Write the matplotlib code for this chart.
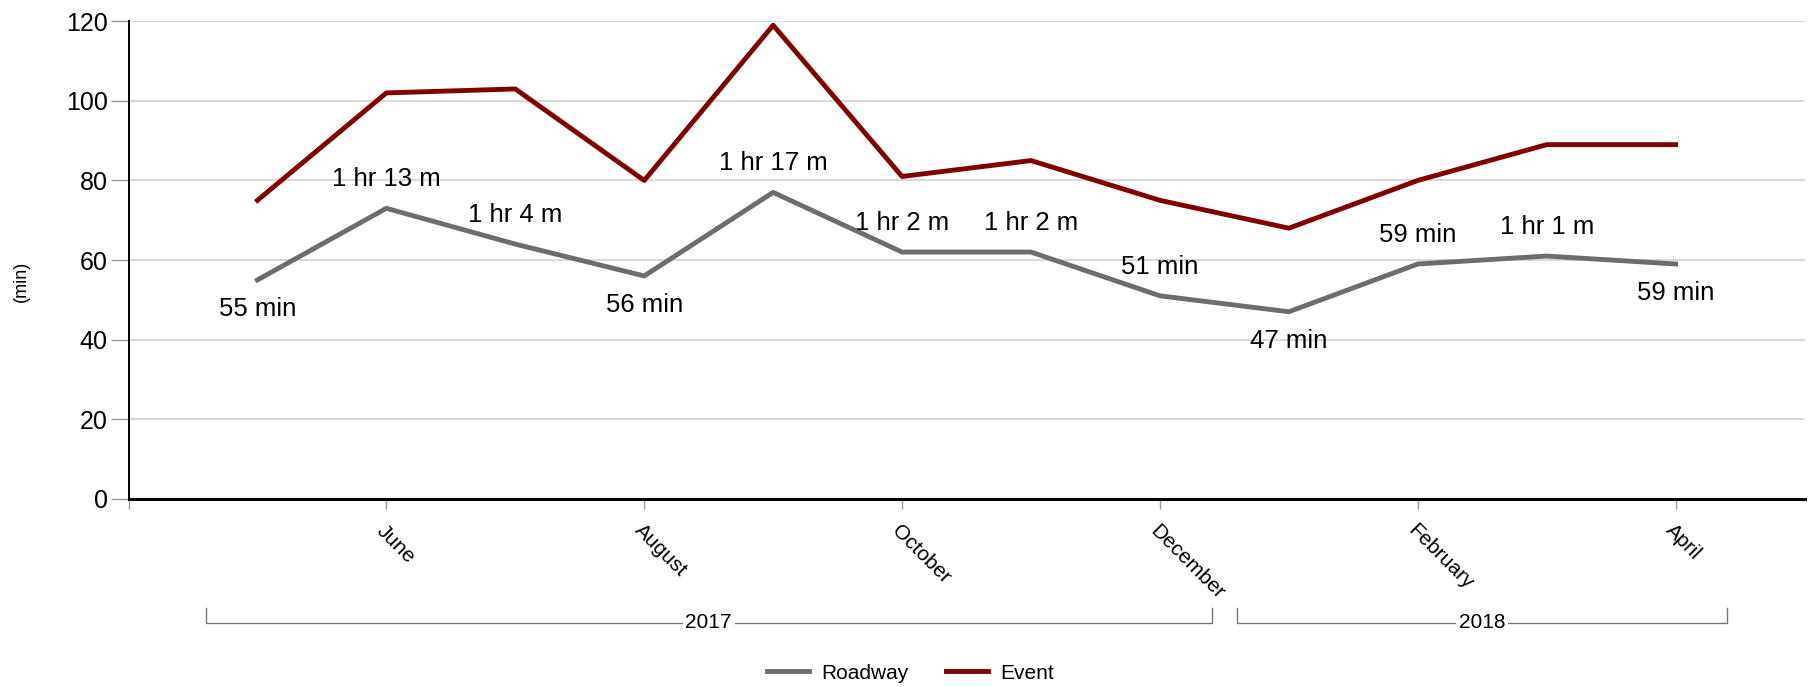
import matplotlib
matplotlib.use('Agg')
import matplotlib.pyplot as plt

plt.rcParams['font.family'] = ['Liberation Sans', 'DejaVu Sans']

months = ['May', 'June', 'July', 'August', 'September', 'October', 'November',
          'December', 'January', 'February', 'March', 'April']
roadway = [55, 73, 64, 56, 77, 62, 62, 51, 47, 59, 61, 59]
event = [75, 102, 103, 80, 119, 81, 85, 75, 68, 80, 89, 89]
roadway_labels = ['55 min', '1 hr 13 m', '1 hr 4 m', '56 min', '1 hr 17 m', '1 hr 2 m',
                  '1 hr 2 m', '51 min', '47 min', '59 min', '1 hr 1 m', '59 min']
label_side = [-1, 1, 1, -1, 1, 1, 1, 1, -1, 1, 1, -1]
tick_pos = [-1, 1, 3, 5, 7, 9, 11]
tick_labels = ['', 'June', 'August', 'October', 'December', 'February', 'April']
years = ['2017', '2018']
year_spans = [(-0.4, 7.4), (7.6, 11.4)]

fig = plt.figure(figsize=(18.1, 6.87), dpi=100)
ax = fig.add_axes([0.071, 0.274, 0.926, 0.695])

x = list(range(len(months)))
ax.plot(x, roadway, color='#6d6d6d', lw=3.5, label='Roadway')
ax.plot(x, event, color='#800000', lw=3.5, label='Event')

for i, (v, lab, s) in enumerate(zip(roadway, roadway_labels, label_side)):
    ax.annotate(lab, (i, v), xytext=(0, 21 * s), textcoords='offset points',
                ha='center', va='center', fontsize=18.5)

ax.set_xlim(-1, 12)
ax.set_ylim(0, 120)
ax.set_yticks(range(0, 121, 20))
ax.yaxis.grid(True, color='#d9d9d9', lw=1.5)
ax.set_axisbelow(True)
ax.tick_params(axis='y', length=13, width=1, color='#999999', labelsize=18, pad=2)
ax.set_xticks(tick_pos)
ax.set_xticklabels(tick_labels, rotation=-45, ha='left', rotation_mode='anchor', fontsize=15)
ax.tick_params(axis='x', length=7, width=1, color='#999999', pad=9)

for side in ['top', 'right']:
    ax.spines[side].set_visible(False)
ax.spines['left'].set_linewidth(1.4)
ax.spines['bottom'].set_linewidth(2.2)

# year brackets below the month labels
tr = ax.get_xaxis_transform()
by = -0.26
for yr, (a, b) in zip(years, year_spans):
    ax.plot([a, a, b, b], [by + 0.031, by, by, by + 0.031], color='#777777', lw=1,
            transform=tr, clip_on=False)
    ax.text((a + b) / 2, by, yr, transform=tr, ha='center', va='center', fontsize=15,
            bbox=dict(facecolor='white', edgecolor='none', pad=2))

fig.text(0.012, 0.59, '(min)', rotation=90, ha='center', va='center', fontsize=13)

fig.legend(loc='center', bbox_to_anchor=(0.503, 0.02), ncol=2, frameon=False, fontsize=15,
           handlelength=2, handletextpad=0.6, columnspacing=1.8)

fig.savefig('out.png', dpi=100)
